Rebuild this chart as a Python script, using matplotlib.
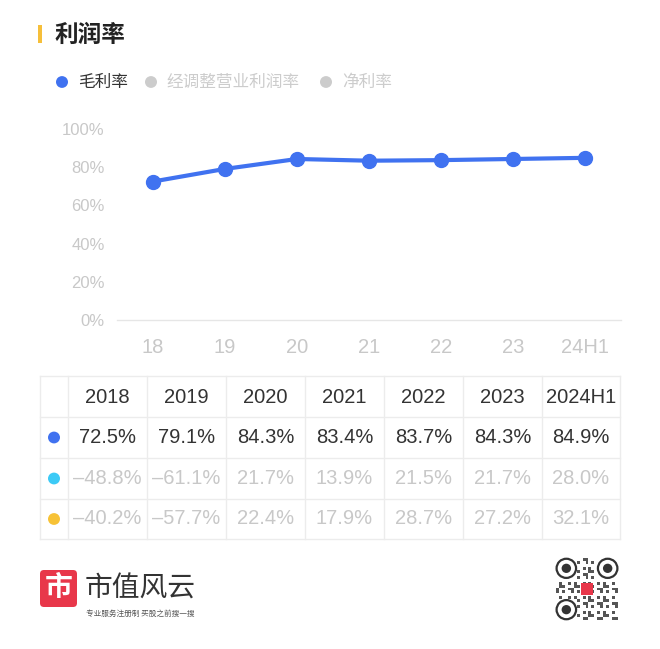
import matplotlib
matplotlib.use("Agg")
import matplotlib.pyplot as plt
from matplotlib.patches import Rectangle, FancyBboxPatch, Circle

plt.rcParams['font.family'] = ['Noto Sans CJK SC', 'DejaVu Sans']

# ---- data ----
x_labels = ["18", "19", "20", "21", "22", "23", "24H1"]
years = ["2018", "2019", "2020", "2021", "2022", "2023", "2024H1"]
gross_margin = [72.5, 79.1, 84.3, 83.4, 83.7, 84.3, 84.9]
adj_op_margin = [-48.8, -61.1, 21.7, 13.9, 21.5, 21.7, 28.0]
net_margin = [-40.2, -57.7, 22.4, 17.9, 28.7, 27.2, 32.1]
series_names = ["毛利率", "经调整营业利润率", "净利率"]
y_ticks = [0, 20, 40, 60, 80, 100]

BLUE = "#4072f0"
CYAN = "#3ccaf6"
YELLOW = "#f7c236"
GRAY_TXT = "#c8c8c8"
DARK = "#333333"
GRID = "#ececec"
NUMFONT = "Liberation Sans"

W, H = 660, 649
fig = plt.figure(figsize=(W / 100, H / 100), dpi=100)

def fx(px):
    return px / W

def fy(py):
    return 1 - py / H

# ---- title ----
fig.patches.append(Rectangle((fx(38), fy(43)), fx(4), 18 / H, transform=fig.transFigure,
                             color="#f6bf3a", lw=0))
fig.text(fx(54), fy(35), "利润率", fontsize=17, fontweight="bold", color="#222222",
         va="center", ha="left")

# ---- legend ----
leg_items = [(62, 78, series_names[0], BLUE, "#333333"),
             (151, 166, series_names[1], "#cccccc", "#cccccc"),
             (326, 342, series_names[2], "#cccccc", "#cccccc")]
for dx, tx, name, dc, tc in leg_items:
    fig.patches.append(Circle((fx(dx), fy(82)), 6 / W, transform=fig.transFigure,
                              color=dc, lw=0))
    fig.text(fx(tx), fy(82), name, fontsize=12, color=tc, va="center", ha="left")

# ---- chart ----
ax = fig.add_axes([fx(117), fy(320), 504 / W, 191 / H])
xs = list(range(len(x_labels)))
ax.plot(xs, gross_margin, color=BLUE, lw=3, marker="o", ms=10, zorder=3)
ax.set_xlim(-0.5, len(x_labels) - 0.5)
ax.set_ylim(0, 100)
ax.set_yticks(y_ticks)
ax.set_yticklabels([f"{v}%" for v in y_ticks], family=NUMFONT, fontsize=12)
ax.set_xticks(xs)
ax.set_xticklabels(x_labels, family=NUMFONT, fontsize=14.5)
for s in ["top", "right", "left"]:
    ax.spines[s].set_visible(False)
ax.spines["bottom"].set_color("#e6e6e6")
ax.spines["bottom"].set_linewidth(1)
ax.tick_params(axis="both", length=0, labelcolor=GRAY_TXT)
ax.tick_params(axis="y", pad=9)
ax.tick_params(axis="x", pad=13)
ax.patch.set_alpha(0)

# ---- table ----
col_lines = [40, 68, 147, 226, 305, 384, 463, 542, 620]
row_lines = [376, 417, 458, 499, 539]
for cx in col_lines:
    fig.add_artist(plt.Line2D([fx(cx), fx(cx)], [fy(row_lines[0]), fy(row_lines[-1])],
                              transform=fig.transFigure, color=GRID, lw=1))
for ry in row_lines:
    fig.add_artist(plt.Line2D([fx(col_lines[0]), fx(col_lines[-1])], [fy(ry), fy(ry)],
                              transform=fig.transFigure, color=GRID, lw=1))

def cell_center(i):
    return (col_lines[i + 1] + col_lines[i + 2]) / 2

header_y = (row_lines[0] + row_lines[1]) / 2 + 1
for i, yr in enumerate(years):
    fig.text(fx(cell_center(i)), fy(header_y), yr, fontsize=14.5, color=DARK,
             ha="center", va="center", family=NUMFONT)

def fmt(v):
    s = f"{abs(v):.1f}%"
    return ("\u2013" + s) if v < 0 else s

rows = [(gross_margin, BLUE, DARK), (adj_op_margin, CYAN, GRAY_TXT), (net_margin, YELLOW, GRAY_TXT)]
for r, (vals, dc, tc) in enumerate(rows):
    cy = (row_lines[r + 1] + row_lines[r + 2]) / 2
    fig.patches.append(Circle((fx(54), fy(cy)), 6 / W, transform=fig.transFigure, color=dc, lw=0))
    for i, v in enumerate(vals):
        fig.text(fx(cell_center(i)), fy(cy), fmt(v), fontsize=14.5, color=tc,
                 ha="center", va="center", family=NUMFONT)

# ---- footer logo ----
fig.patches.append(FancyBboxPatch((fx(40), fy(607)), 37 / W, 37 / H, transform=fig.transFigure,
                                  boxstyle="round,pad=0,rounding_size=0.006",
                                  color="#e8374a", lw=0))
fig.text(fx(58.5), fy(588), "市", fontsize=20, color="white", ha="center", va="center",
         fontweight="bold")
fig.text(fx(85), fy(589), "市值风云", fontsize=20, color="#333333", ha="left", va="center")
fig.text(fx(86), fy(614), "专业服务注册制 买股之前搜一搜", fontsize=5.5, color="#555555",
         ha="left", va="center")

# ---- QR placeholder ----
qx0, qy0, qs = 556, 558, 62
n = 21
cell = qs / n
for i in range(n):
    for j in range(n):
        if (i * 7 + j * 3 + i * j) % 5 in (0, 2):
            fig.patches.append(Rectangle((fx(qx0 + j * cell), fy(qy0 + (i + 1) * cell)),
                                         cell / W, cell / H, transform=fig.transFigure,
                                         color="#555555", lw=0))
for (cx, cy) in [(qx0, qy0), (qx0 + qs - 7 * cell, qy0), (qx0, qy0 + qs - 7 * cell)]:
    fig.patches.append(Rectangle((fx(cx), fy(cy + 7 * cell)), 7 * cell / W, 7 * cell / H,
                                 transform=fig.transFigure, color="white", lw=0, zorder=2))
    fig.patches.append(Circle((fx(cx + 3.5 * cell), fy(cy + 3.5 * cell)), 3.3 * cell / W,
                              transform=fig.transFigure, facecolor="white",
                              edgecolor="#333333", lw=1.6, zorder=3))
    fig.patches.append(Circle((fx(cx + 3.5 * cell), fy(cy + 3.5 * cell)), 1.6 * cell / W,
                              transform=fig.transFigure, color="#333333", lw=0, zorder=4))
fig.patches.append(Rectangle((fx(qx0 + qs / 2 - 6), fy(qy0 + qs / 2 + 6)), 12 / W, 12 / H,
                             transform=fig.transFigure, color="#e8374a", lw=0, zorder=5))

fig.savefig("out.png", dpi=100, facecolor="white")
